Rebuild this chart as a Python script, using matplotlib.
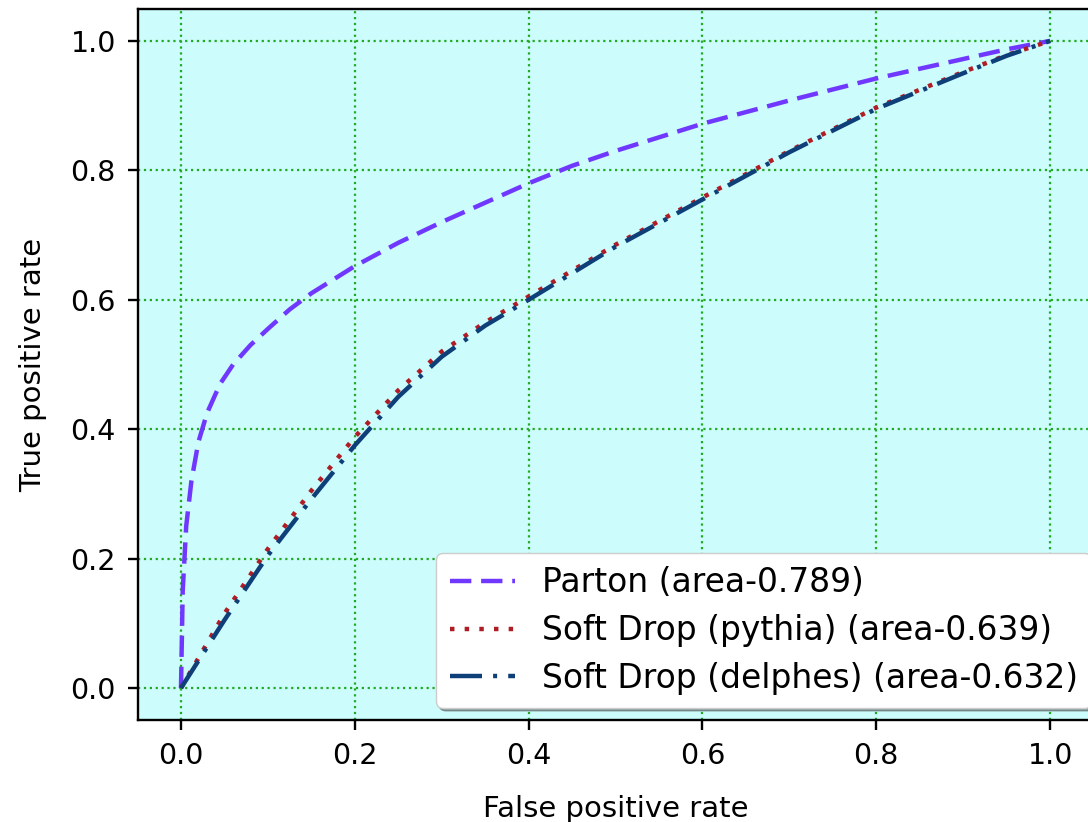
import numpy as np
import matplotlib
matplotlib.use("Agg")
import matplotlib.pyplot as plt

# ROC curve points
fpr_parton = [0.0, 0.002, 0.006, 0.012, 0.02, 0.03, 0.045, 0.06, 0.08, 0.1, 0.125, 0.15,
              0.2, 0.25, 0.3, 0.35, 0.4, 0.45, 0.5, 0.6, 0.7, 0.8, 0.9, 0.95, 1.0]
tpr_parton = [0.0, 0.15, 0.25, 0.32, 0.38, 0.425, 0.47, 0.5, 0.53, 0.555, 0.585, 0.61,
              0.652, 0.688, 0.72, 0.75, 0.78, 0.807, 0.83, 0.872, 0.908, 0.942, 0.972, 0.987, 1.0]

fpr_pythia = [0.0, 0.05, 0.1, 0.15, 0.2, 0.25, 0.3, 0.35, 0.4, 0.5, 0.6, 0.7, 0.8, 0.9, 0.95, 1.0]
tpr_pythia = [0.0, 0.115, 0.215, 0.305, 0.388, 0.46, 0.52, 0.565, 0.605, 0.685, 0.758, 0.83,
              0.897, 0.952, 0.978, 1.0]

fpr_delphes = [0.0, 0.05, 0.1, 0.15, 0.2, 0.25, 0.3, 0.35, 0.4, 0.5, 0.6, 0.7, 0.8, 0.9, 0.95, 1.0]
tpr_delphes = [0.0, 0.105, 0.205, 0.292, 0.375, 0.45, 0.512, 0.56, 0.6, 0.682, 0.755, 0.828,
               0.895, 0.95, 0.977, 1.0]

labels = ["Parton (area-0.789)",
          "Soft Drop (pythia) (area-0.639)",
          "Soft Drop (delphes) (area-0.632)"]

fig = plt.figure(figsize=(10.88, 8.22), dpi=100)
# axes run slightly past the right edge of the canvas, as in the reference crop
ax = fig.add_axes([0.1264, 0.1236, 0.8787, 0.866])
ax.set_facecolor("#ccfcfc")

ax.plot(fpr_parton, tpr_parton, linestyle=(0, (4.8, 2.2)), color="#7038ff", lw=3.2, label=labels[0])
ax.plot(fpr_pythia, tpr_pythia, linestyle=(0, (1, 2.3)), color="#b01c24", lw=3.2, label=labels[1])
ax.plot(fpr_delphes, tpr_delphes, linestyle=(0, (7.2, 2.5, 0.9, 2.5)), color="#0e3f78", lw=3.2,
        label=labels[2])

ax.set_xlim(-0.05, 1.05)
ax.set_ylim(-0.05, 1.05)
ax.grid(True, color="#22aa22", linestyle=":", linewidth=1.6)

ax.tick_params(labelsize=20.5, length=7.5, width=1.7, pad=8)
for s in ax.spines.values():
    s.set_linewidth(1.7)

ax.set_xlabel("False positive rate", fontsize=21, labelpad=18)
ax.set_ylabel("True positive rate", fontsize=21, labelpad=17)

ax.legend(loc="lower right", bbox_to_anchor=(0.9974, 0.0174), borderaxespad=0,
          fontsize=23.7, shadow=True, framealpha=1, handlelength=2.0,
          borderpad=0.4, labelspacing=0.45)

fig.savefig("out.png", dpi=100)
